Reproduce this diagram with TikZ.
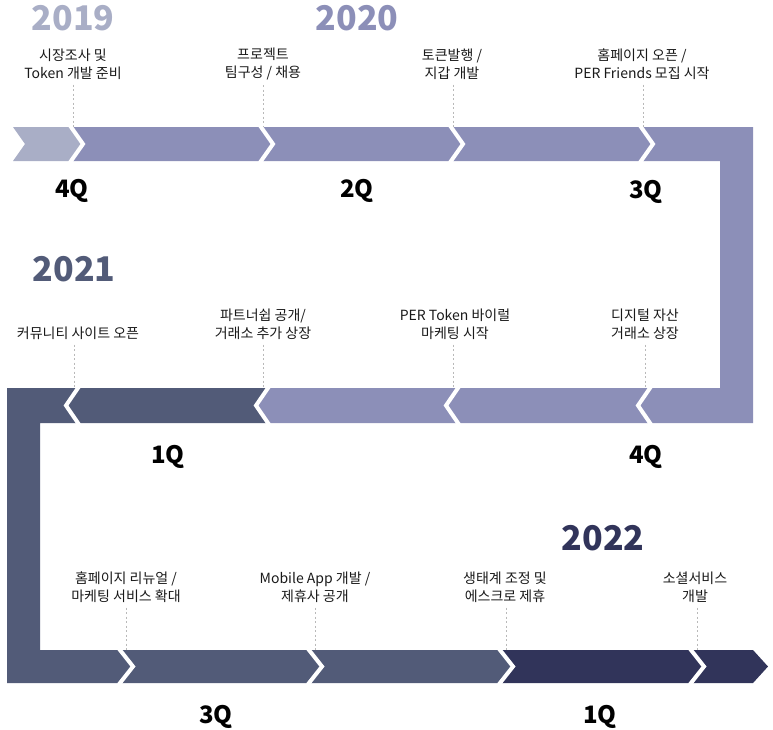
\documentclass[tikz,border=0pt]{standalone}
\usepackage{fontspec}
\setmainfont{Noto Sans CJK KR}
\definecolor{bandgrey}{HTML}{A9AEC6}
\definecolor{bandpurple}{HTML}{8C8FB8}
\definecolor{bandslate}{HTML}{525B78}
\definecolor{bandnavy}{HTML}{31345A}

\begin{document}
\begin{tikzpicture}[x=1pt,y=-1pt,
	event/.style={align=center,font=\fontsize{14}{18}\selectfont,text=black!90,inner sep=2pt},
	year/.style={font=\bfseries\fontsize{34}{34}\selectfont},
	quarter/.style={font=\bfseries\fontsize{24}{24}\selectfont},
	tick/.style={draw=gray!55,dash pattern=on 2pt off 2.5pt,line width=0.8pt,shorten <=3pt},
	cut/.style={draw=white,line width=4pt,line cap=rect}]
		\useasboundingbox (0,0) rectangle (773,729);
		% the band, one colour after the other
		\fill[bandgrey] (13,127) -- (71,127) -- (83,144) -- (71,161) -- (13,161) -- (25,144) -- cycle;
		\fill[bandpurple] (71,127) -- (753,127) -- (753,423) -- (268,423) -- (256,405.5) -- (268,388)
			-- (720,388) -- (720,161) -- (71,161) -- (83,144) -- cycle;
		\fill[bandslate] (268,388) -- (7,388) -- (7,683) -- (500,683) -- (513,666.5) -- (500,650)
			-- (40,650) -- (40,423) -- (268,423) -- (256,405.5) -- cycle;
		\fill[bandnavy] (500,650) -- (753,650) -- (768,666.5) -- (753,683) -- (500,683) -- (513,666.5) -- cycle;
		% white cuts between the steps
		\draw[cut] (71,127) -- (83,144) -- (71,161);
		\draw[cut] (261,127) -- (273,144) -- (261,161);
		\draw[cut] (451,127) -- (463,144) -- (451,161);
		\draw[cut] (641,127) -- (653,144) -- (641,161);
		\draw[cut] (650,388) -- (638,405.5) -- (650,423);
		\draw[cut] (458,388) -- (446,405.5) -- (458,423);
		\draw[cut] (268,388) -- (256,405.5) -- (268,423);
		\draw[cut] (78,388) -- (66,405.5) -- (78,423);
		\draw[cut] (120,650) -- (133,666.5) -- (120,683);
		\draw[cut] (309,650) -- (322,666.5) -- (309,683);
		\draw[cut] (500,650) -- (513,666.5) -- (500,683);
		\draw[cut] (691,650) -- (704,666.5) -- (691,683);
		% tick points on the band
		\coordinate (t1) at (73,127);
		\coordinate (t2) at (263,127);
		\coordinate (t3) at (453,127);
		\coordinate (t4) at (643,127);
		\coordinate (m1) at (645,388);
		\coordinate (m2) at (453,388);
		\coordinate (m3) at (263,388);
		\coordinate (m4) at (74,388);
		\coordinate (b1) at (126,650);
		\coordinate (b2) at (315,650);
		\coordinate (b3) at (506,650);
		\coordinate (b4) at (697,650);
		% years
		\node[year,text=bandgrey] (y2019) at (73,18) {2019};
		\node[year,text=bandpurple] (y2020) at (357,18) {2020};
		\node[year,text=bandslate] (y2021) at (74,269) {2021};
		\node[year,text=bandnavy] (y2022) at (603,538) {2022};
		% events
		\node[event] (e1) at (73,64) {시장조사 및\\Token 개발 준비};
		\node[event] (e2) at (263,64) {프로젝트\\팀구성 / 채용};
		\node[event] (e3) at (452,64) {토큰발행 /\\지갑 개발};
		\node[event] (e4) at (642,64) {홈페이지 오픈 /\\PER Friends 모집 시작};
		\node[event] (e5) at (645,324) {디지털 자산\\거래소 상장};
		\node[event] (e6) at (455,324) {PER Token 바이럴\\마케팅 시작};
		\node[event] (e7) at (263,324) {파트너쉽 공개/\\거래소 추가 상장};
		\node[event] (e8) at (78,333) {커뮤니티 사이트 오픈};
		\node[event] (e9) at (126,587) {홈페이지 리뉴얼 /\\마케팅 서비스 확대};
		\node[event] (e10) at (315,587) {Mobile App 개발 /\\제휴사 공개};
		\node[event] (e11) at (505,587) {생태계 조정 및\\에스크로 제휴};
		\node[event] (e12) at (695,587) {소셜서비스\\개발};
		\draw[tick] (e1.south -| t1) -- (t1);
		\draw[tick] (e2.south -| t2) -- (t2);
		\draw[tick] (e3.south -| t3) -- (t3);
		\draw[tick] (e4.south -| t4) -- (t4);
		\draw[tick] (e5.south -| m1) -- (m1);
		\draw[tick] (e6.south -| m2) -- (m2);
		\draw[tick] (e7.south -| m3) -- (m3);
		\draw[tick] (e8.south -| m4) -- (m4);
		\draw[tick] (e9.south -| b1) -- (b1);
		\draw[tick] (e10.south -| b2) -- (b2);
		\draw[tick] (e11.south -| b3) -- (b3);
		\draw[tick] (e12.south -| b4) -- (b4);
		% quarters
		\node[quarter] (q1) at (72,191) {4Q};
		\node[quarter] (q2) at (357,191) {2Q};
		\node[quarter] (q3) at (646,192) {3Q};
		\node[quarter] (q4) at (168,457) {1Q};
		\node[quarter] (q5) at (646,457) {4Q};
		\node[quarter] (q6) at (216,717) {3Q};
		\node[quarter] (q7) at (600,717) {1Q};
	\end{tikzpicture}
\end{document}
